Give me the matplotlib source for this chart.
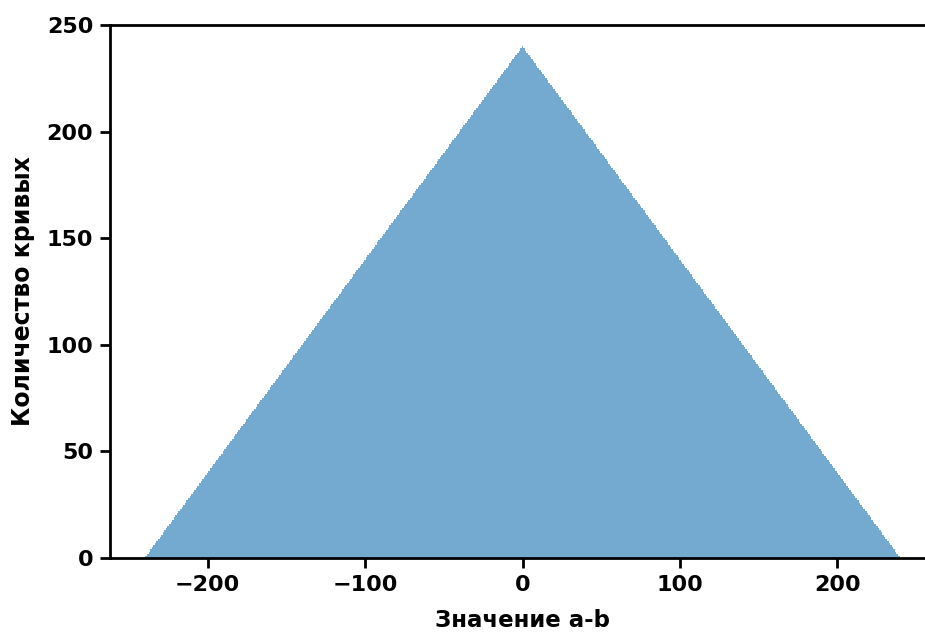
import numpy as np
import matplotlib
matplotlib.use("Agg")
import matplotlib.pyplot as plt

# a-b values (integer bins) and number of curves per bin
diff_values = list(range(-239, 240))
left_counts = [
    1, 2, 3, 4, 5, 6, 7, 8, 9, 10, 11, 12, 13, 14, 15, 16, 17, 18, 19, 20,
    21, 22, 23, 24, 25, 26, 27, 28, 29, 30, 31, 32, 33, 34, 35, 36, 37, 38, 39, 40,
    41, 42, 43, 44, 45, 46, 47, 48, 49, 50, 51, 52, 53, 54, 55, 56, 57, 58, 59, 60,
    61, 62, 63, 64, 65, 66, 67, 68, 69, 70, 71, 72, 73, 74, 75, 76, 77, 78, 79, 80,
    81, 82, 83, 84, 85, 86, 87, 88, 89, 90, 91, 92, 93, 94, 95, 96, 97, 98, 99, 100,
    101, 102, 103, 104, 105, 106, 107, 108, 109, 110, 111, 112, 113, 114, 115, 116, 117, 118, 119, 120,
    121, 122, 123, 124, 125, 126, 127, 128, 129, 130, 131, 132, 133, 134, 135, 136, 137, 138, 139, 140,
    141, 142, 143, 144, 145, 146, 147, 148, 149, 150, 151, 152, 153, 154, 155, 156, 157, 158, 159, 160,
    161, 162, 163, 164, 165, 166, 167, 168, 169, 170, 171, 172, 173, 174, 175, 176, 177, 178, 179, 180,
    181, 182, 183, 184, 185, 186, 187, 188, 189, 190, 191, 192, 193, 194, 195, 196, 197, 198, 199, 200,
    201, 202, 203, 204, 205, 206, 207, 208, 209, 210, 211, 212, 213, 214, 215, 216, 217, 218, 219, 220,
    221, 222, 223, 224, 225, 226, 227, 228, 229, 230, 231, 232, 233, 234, 235, 236, 237, 238, 239, 240,
]
right_counts = [
    239, 238, 237, 236, 235, 234, 233, 232, 231, 230, 229, 228, 227, 226, 225, 224, 223, 222, 221, 220,
    219, 218, 217, 216, 215, 214, 213, 212, 211, 210, 209, 208, 207, 206, 205, 204, 203, 202, 201, 200,
    199, 198, 197, 196, 195, 194, 193, 192, 191, 190, 189, 188, 187, 186, 185, 184, 183, 182, 181, 180,
    179, 178, 177, 176, 175, 174, 173, 172, 171, 170, 169, 168, 167, 166, 165, 164, 163, 162, 161, 160,
    159, 158, 157, 156, 155, 154, 153, 152, 151, 150, 149, 148, 147, 146, 145, 144, 143, 142, 141, 140,
    139, 138, 137, 136, 135, 134, 133, 132, 131, 130, 129, 128, 127, 126, 125, 124, 123, 122, 121, 120,
    119, 118, 117, 116, 115, 114, 113, 112, 111, 110, 109, 108, 107, 106, 105, 104, 103, 102, 101, 100,
    99, 98, 97, 96, 95, 94, 93, 92, 91, 90, 89, 88, 87, 86, 85, 84, 83, 82, 81, 80,
    79, 78, 77, 76, 75, 74, 73, 72, 71, 70, 69, 68, 67, 66, 65, 64, 63, 62, 61, 60,
    59, 58, 57, 56, 55, 54, 53, 52, 51, 50, 49, 48, 47, 46, 45, 44, 43, 42, 41, 40,
    39, 38, 37, 36, 35, 34, 33, 32, 31, 30, 29, 28, 27, 26, 25, 24, 23, 22, 21, 20,
    19, 18, 17, 16, 15, 14, 13, 12, 11, 10, 9, 8, 7, 6, 5, 4, 3, 2, 1,
]
counts = left_counts + right_counts

x_ticks = [-200, -100, 0, 100, 200]
y_ticks = [0, 50, 100, 150, 200, 250]
x_label = "Значение a-b"
y_label = "Количество кривых"

plt.rcParams['font.family'] = ['DejaVu Sans']
plt.rcParams['font.weight'] = 'bold'

fig = plt.figure(figsize=(9.25, 6.32), dpi=100)
ax = fig.add_axes([110 / 925, 74 / 632, 825 / 925, 533 / 632])

ax.bar(diff_values, counts, width=1.0, align='center', color='#1f77b4',
       alpha=0.62, linewidth=0)

ax.set_xlim(-262, 262)
ax.set_ylim(0, 250)
ax.set_xticks(x_ticks)
ax.set_yticks(y_ticks)
ax.set_xticklabels(["\u2212200", "\u2212100", "0", "100", "200"])
ax.tick_params(labelsize=16, width=2, length=7, pad=5)
for lab in ax.get_xticklabels() + ax.get_yticklabels():
    lab.set_fontweight('bold')
ax.set_xlabel(x_label, fontsize=16.5, fontweight='bold', labelpad=10)
ax.set_ylabel(y_label, fontsize=17, fontweight='bold', labelpad=8)
for s in ['left', 'bottom', 'top']:
    ax.spines[s].set_linewidth(2)
ax.spines['right'].set_visible(False)

fig.savefig("out.png", dpi=100)
